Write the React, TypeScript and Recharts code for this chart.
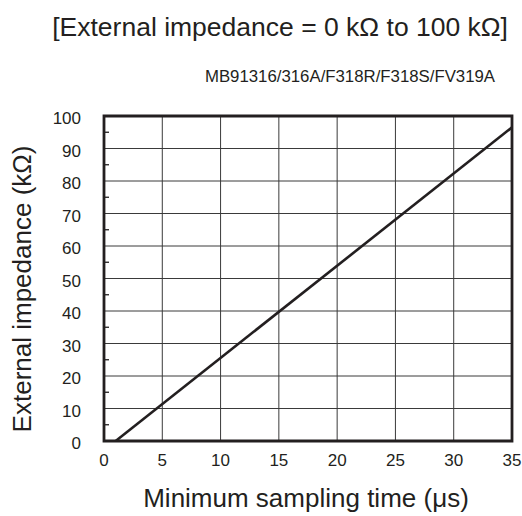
import React from 'react'
import { LineChart, Line, XAxis, YAxis, CartesianGrid, ReferenceArea } from 'recharts'

// line endpoints (µs, kΩ)
const samplingTime = [1.0, 35]
const impedance = [0, 96.5]

const xTicks = [0, 5, 10, 15, 20, 25, 30, 35]
const yTicks = [0, 5, 10, 15, 20, 25, 30, 35, 40, 45, 50, 55, 60, 65, 70, 75, 80, 85, 90, 95, 100]
const xGrid = [5, 10, 15, 20, 25, 30]
const yGrid = [10, 20, 30, 40, 50, 60, 70, 80, 90]

const data = samplingTime.map((t, i) => ({ t, z: impedance[i] }))

const FONT = '"Liberation Sans", Arial, Helvetica, sans-serif'
const INK = '#231f20'
const Y_MARGIN = 23

const YTick = (props: any) => {
    const { x, y, payload } = props
    const v = payload.value
    if (v % 10 !== 0) {
        // minor tick, drawn inward from the left edge
        return <line x1={x + Y_MARGIN} x2={x + Y_MARGIN + 5} y1={y} y2={y} stroke={INK} strokeWidth={1.3} />
    }
    return (
        <text x={x} y={y} dy={8} textAnchor="end" fontSize={17} fill={INK} fontFamily={FONT}>
            {v}
        </text>
    )
}

export default function App() {
    return (
        <div style={{ position: 'absolute', left: 0, top: 0, width: 522, height: 516, background: '#fff' }}>
            <LineChart
                width={522}
                height={516}
                data={data}
                margin={{ top: 116, right: 10, bottom: 45, left: 44 }}
                style={{ position: 'absolute', left: 0, top: 0 }}
            >
                <CartesianGrid
                    horizontalValues={yGrid}
                    verticalValues={xGrid}
                    stroke="#3a3a3a"
                    strokeWidth={1}
                />
                <XAxis
                    dataKey="t"
                    type="number"
                    domain={[0, 35]}
                    ticks={xTicks}
                    height={30}
                    axisLine={false}
                    tickLine={false}
                    tickSize={0}
                    tickMargin={13}
                    tick={{ fontSize: 17, fill: INK, fontFamily: FONT }}
                />
                <YAxis
                    type="number"
                    domain={[0, 100]}
                    ticks={yTicks}
                    width={60}
                    axisLine={false}
                    tickLine={false}
                    tickSize={0}
                    tickMargin={Y_MARGIN}
                    interval={0}
                    tick={<YTick />}
                />
                <ReferenceArea x1={0} x2={35} y1={0} y2={100} fill="none" stroke={INK} strokeWidth={2.8} />
                <Line
                    dataKey="z"
                    type="linear"
                    stroke={INK}
                    strokeWidth={2.6}
                    dot={false}
                    isAnimationActive={false}
                />
            </LineChart>
            <svg width={522} height={516} style={{ position: 'absolute', left: 0, top: 0, pointerEvents: 'none' }}>
                <g fontFamily={FONT} fill={INK}>
                    <text x={508} y={36} fontSize={26.5} textAnchor="end">[External impedance = 0 kΩ to 100 kΩ]</text>
                    <text x={350} y={82} fontSize={16.8} textAnchor="middle">MB91316/316A/F318R/F318S/FV319A</text>
                    <text x={306} y={507} fontSize={26} textAnchor="middle">Minimum sampling time (μs)</text>
                    <text x={31} y={289} fontSize={26} textAnchor="middle" transform="rotate(-90 31 289)">External impedance (kΩ)</text>
                </g>
            </svg>
        </div>
    )
}
